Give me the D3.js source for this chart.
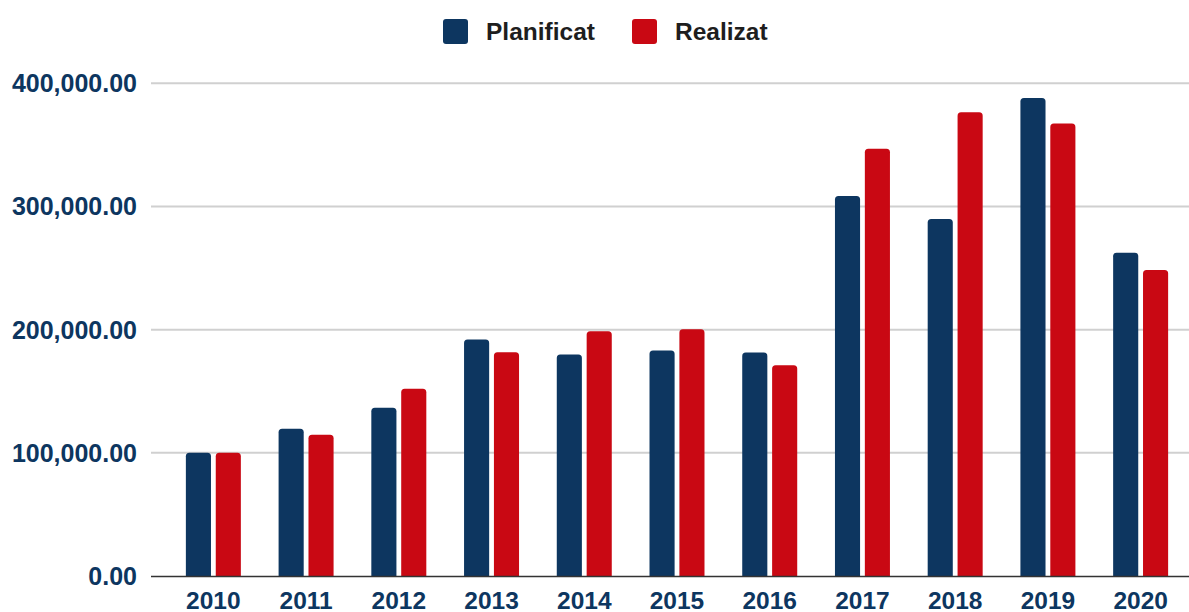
<!DOCTYPE html>
<html><head><meta charset="utf-8">
<script src="https://cdn.jsdelivr.net/npm/d3@7"></script>
<style>body{margin:0;background:#fff}svg{display:block}</style>
</head><body><svg id="c" width="1189" height="612"></svg>
<script>
const years = ["2010","2011","2012","2013","2014","2015","2016","2017","2018","2019","2020"];
const seriesNames = ["Planificat","Realizat"];
const planificat = [100000,119500,136500,192000,179800,183000,181400,308500,289800,388000,262500];
const realizat = [100000,114600,152000,181700,198800,200400,171100,346800,376400,367400,248500];
const yTicks = [0,100000,200000,300000,400000];
const colors = ["#0d3660","#c90813"];

const svg = d3.select("#c");
const font = "'Liberation Sans', Arial, sans-serif";
const x = d3.scaleBand().domain(years).range([167,1187]).paddingInner(0.407).paddingOuter(0.2035);
const xs = d3.scaleBand().domain(seriesNames).range([0,x.bandwidth()]).paddingInner(0.16);
const y = d3.scaleLinear().domain([0,400000]).range([576,83.3]);

// gridlines
svg.append("g").selectAll("line").data(yTicks.filter(d=>d>0)).join("line")
  .attr("x1",151).attr("x2",1189).attr("y1",d=>y(d)).attr("y2",d=>y(d))
  .attr("stroke","#d0d0d0").attr("stroke-width",2);

// y labels
const fmt = d3.format(",.2f");
svg.append("g").selectAll("text").data(yTicks).join("text")
  .attr("x",137).attr("y",d=>y(d)+9).attr("text-anchor","end")
  .attr("font-family",font).attr("font-weight","bold").attr("font-size",25)
  .attr("fill","#0d3660").text(d=>fmt(d));

// bars
const data = years.map((yr,i)=>({yr, vals:[planificat[i],realizat[i]]}));
function barPath(x0,w,yt,yb,r){
  r=Math.min(r,w/2,(yb-yt));
  return `M${x0},${yb}V${yt+r}Q${x0},${yt} ${x0+r},${yt}H${x0+w-r}Q${x0+w},${yt} ${x0+w},${yt+r}V${yb}Z`;
}
const g = svg.append("g").selectAll("g").data(data).join("g")
  .attr("transform",d=>`translate(${x(d.yr)},0)`);
g.selectAll("path").data(d=>d.vals.map((v,j)=>({s:seriesNames[j],v,j}))).join("path")
  .attr("d",d=>barPath(xs(d.s),xs.bandwidth(),y(d.v),y(0),3.5))
  .attr("fill",d=>colors[d.j]);

// baseline
svg.append("line").attr("x1",151).attr("x2",1189).attr("y1",576.5).attr("y2",576.5)
  .attr("stroke","#333").attr("stroke-width",1.6);

// x labels
svg.append("g").selectAll("text").data(years).join("text")
  .attr("x",d=>x(d)+x.bandwidth()/2).attr("y",608.5).attr("text-anchor","middle")
  .attr("font-family",font).attr("font-weight","bold").attr("font-size",24.5)
  .attr("fill","#0d3660").text(d=>d);

// legend
const leg = [{n:"Planificat",sx:443,tx:486},{n:"Realizat",sx:632,tx:675}];
leg.forEach((l,i)=>{
  svg.append("rect").attr("x",l.sx).attr("y",19).attr("width",25).attr("height",25).attr("rx",3)
    .attr("fill",colors[i]);
  svg.append("text").attr("x",l.tx).attr("y",40).attr("font-family",font).attr("font-weight","bold").attr("font-size",24.5)
    .attr("fill","#1e1e1e").text(l.n);
});
</script></body></html>
